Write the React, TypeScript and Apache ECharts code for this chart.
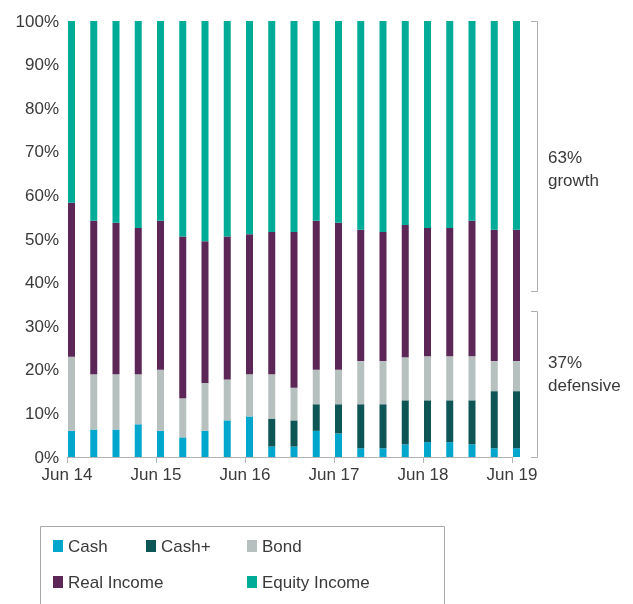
import React, { useEffect, useRef } from "react";
import * as echarts from "echarts";

const categories = [
  "Jun 14", "Sep 14", "Dec 14", "Mar 15",
  "Jun 15", "Sep 15", "Dec 15", "Mar 16",
  "Jun 16", "Sep 16", "Dec 16", "Mar 17",
  "Jun 17", "Sep 17", "Dec 17", "Mar 18",
  "Jun 18", "Sep 18", "Dec 18", "Mar 19",
  "Jun 19",
];

const cash = [6, 6.3, 6.3, 7.5, 6, 4.5, 6, 8.4, 9.3, 2.4, 2.4, 6, 5.4, 2, 2, 2.9, 3.4, 3.4, 2.9, 2, 2];
const cashPlus = [0, 0, 0, 0, 0, 0, 0, 0, 0, 6.4, 6.0, 6.1, 6.7, 10.1, 10.1, 10.1, 9.6, 9.6, 10.1, 13.1, 13.1];
const bond = [17, 12.7, 12.7, 11.5, 14, 9, 11, 9.4, 9.7, 10.2, 7.5, 7.9, 7.9, 9.9, 9.9, 9.9, 10.1, 10.1, 10.1, 6.9, 6.9];
const realIncome = [35.3, 35.2, 34.7, 33.5, 34.2, 37.1, 32.5, 32.8, 32.1, 32.6, 35.7, 34.2, 33.7, 30.1, 29.6, 30.3, 29.4, 29.4, 31.1, 30.1, 30.1];
const equityIncome = [41.7, 45.8, 46.3, 47.5, 45.8, 49.4, 50.5, 49.4, 48.9, 48.4, 48.4, 45.8, 46.3, 47.9, 48.4, 46.8, 47.5, 47.5, 45.8, 47.9, 47.9];

const seriesNames = ["Cash", "Cash+", "Bond", "Real Income", "Equity Income"];
const seriesColors = ["#00a6cc", "#0e5656", "#b5c0bf", "#5c2756", "#00ac97"];
const seriesData = [cash, cashPlus, bond, realIncome, equityIncome];

const FONT = "'Liberation Sans', Arial, sans-serif";
const TEXT_COLOR = "#3a3a3a";

export default function App() {
  const ref = useRef<HTMLDivElement>(null);

  useEffect(() => {
    if (!ref.current) return;
    const chart = echarts.init(ref.current, undefined, { renderer: "svg" });

    const legendPos: [number, number][] = [
      [53, 536],
      [146, 536],
      [247, 536],
      [53, 572],
      [247, 572],
    ];

    chart.setOption({
      animation: false,
      textStyle: { fontFamily: FONT },
      grid: [
        { left: 71.5, top: 21, width: 445, height: 436 },
        { left: 67, top: 21, width: 445, height: 436 },
      ],
      xAxis: [
        {
          type: "category",
          gridIndex: 0,
          data: categories,
          boundaryGap: false,
          show: false,
        },
        {
          type: "category",
          gridIndex: 1,
          data: categories,
          boundaryGap: false,
          axisLine: { lineStyle: { color: "#b3b3b3", width: 1 } },
          axisTick: { interval: 3, length: 6, lineStyle: { color: "#b3b3b3" } },
          axisLabel: {
            interval: 3,
            margin: 9,
            fontSize: 17,
            color: TEXT_COLOR,
            fontFamily: FONT,
          },
        },
      ],
      yAxis: [
        { type: "value", gridIndex: 0, min: 0, max: 100, interval: 10, show: false },
        {
          type: "value",
          gridIndex: 1,
          min: 0,
          max: 100,
          interval: 10,
          axisLine: { show: false },
          axisTick: { show: false },
          splitLine: { show: false },
          axisLabel: {
            formatter: "{value}%",
            margin: 8,
            fontSize: 17,
            color: TEXT_COLOR,
            fontFamily: FONT,
          },
        },
      ],
      legend: seriesNames.map((name, i) => ({
        data: [name],
        left: legendPos[i][0],
        top: legendPos[i][1],
        padding: 0,
        icon: "rect",
        itemWidth: 10,
        itemHeight: 12,
        itemGap: 0,
        selectedMode: false,
        textStyle: {
          fontSize: 17,
          color: TEXT_COLOR,
          fontFamily: FONT,
          lineHeight: 20,
        },
      })),
      series: seriesNames.map((name, i) => ({
        name,
        type: "bar",
        stack: "total",
        xAxisIndex: 0,
        yAxisIndex: 0,
        barWidth: 7,
        itemStyle: { color: seriesColors[i] },
        data: seriesData[i],
      })),
      graphic: [
        {
          type: "polyline",
          silent: true,
          shape: { points: [[531, 21.5], [537.5, 21.5], [537.5, 291.5], [531, 291.5]] },
          style: { stroke: "#b0b0b0", fill: "none", lineWidth: 1 },
        },
        {
          type: "polyline",
          silent: true,
          shape: { points: [[531, 311.5], [537.5, 311.5], [537.5, 457.5], [531, 457.5]] },
          style: { stroke: "#b0b0b0", fill: "none", lineWidth: 1 },
        },
        {
          type: "text",
          left: 548,
          top: 146,
          style: {
            text: "63%\ngrowth",
            fontSize: 17,
            lineHeight: 23,
            fill: TEXT_COLOR,
            fontFamily: FONT,
          },
        },
        {
          type: "text",
          left: 548,
          top: 351,
          style: {
            text: "37%\ndefensive",
            fontSize: 17,
            lineHeight: 23,
            fill: TEXT_COLOR,
            fontFamily: FONT,
          },
        },
        {
          type: "rect",
          silent: true,
          z: -1,
          shape: { x: 40.5, y: 526.5, width: 404, height: 100 },
          style: { stroke: "#aaaaaa", fill: "none", lineWidth: 1 },
        },
      ],
    });

    return () => chart.dispose();
  }, []);

  return (
    <div
      ref={ref}
      style={{ position: "fixed", left: 0, top: 0, width: 633, height: 604 }}
    />
  );
}
